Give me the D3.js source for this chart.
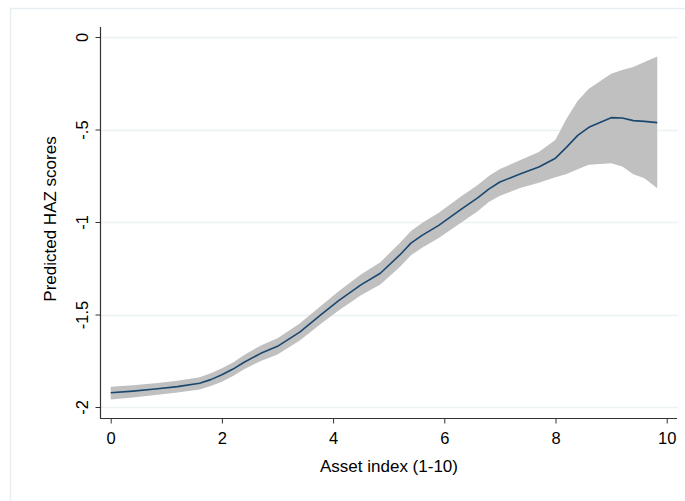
<!DOCTYPE html>
<html>
<head>
<meta charset="utf-8">
<script src="https://cdn.jsdelivr.net/npm/d3@7"></script>
<style>
  html, body { margin: 0; padding: 0; background: #ffffff; }
  svg { display: block; }
  text { font-family: "Liberation Sans", Arial, sans-serif; fill: #000; }
</style>
</head>
<body>
<svg id="chart" width="685" height="501"></svg>
<script>
// ---- data ----
const assetIndex = [0, 0.4, 0.8, 1.2, 1.6, 1.8, 2.0, 2.2, 2.4, 2.7, 3.0, 3.4, 3.8, 4.1, 4.5, 4.85, 5.2, 5.4, 5.6, 5.9, 6.3, 6.6, 6.8, 7.0, 7.35, 7.7, 8.0, 8.2, 8.4, 8.6, 9.0, 9.2, 9.4, 9.6, 9.83];
const predicted  = [-1.923, -1.914, -1.903, -1.890, -1.872, -1.852, -1.826, -1.795, -1.758, -1.710, -1.672, -1.595, -1.497, -1.425, -1.340, -1.277, -1.178, -1.114, -1.072, -1.018, -0.932, -0.870, -0.822, -0.784, -0.742, -0.703, -0.655, -0.595, -0.532, -0.488, -0.436, -0.438, -0.452, -0.456, -0.463];
const ciUpper    = [-1.890, -1.882, -1.872, -1.858, -1.839, -1.818, -1.791, -1.759, -1.719, -1.667, -1.629, -1.549, -1.449, -1.374, -1.284, -1.217, -1.114, -1.049, -1.006, -0.950, -0.862, -0.800, -0.752, -0.714, -0.668, -0.622, -0.555, -0.440, -0.345, -0.280, -0.198, -0.178, -0.162, -0.135, -0.106];
const ciLower    = [-1.959, -1.948, -1.935, -1.922, -1.906, -1.887, -1.863, -1.833, -1.796, -1.751, -1.716, -1.641, -1.546, -1.479, -1.396, -1.338, -1.243, -1.180, -1.139, -1.086, -1.004, -0.942, -0.892, -0.858, -0.818, -0.788, -0.758, -0.740, -0.715, -0.690, -0.683, -0.700, -0.742, -0.763, -0.818];
const xTicks = [0, 2, 4, 6, 8, 10];
const yTicks = [0, -0.5, -1, -1.5, -2];
const yTickLabels = ["0", "-.5", "-1", "-1.5", "-2"];
const xTitle = "Asset index (1-10)";
const yTitle = "Predicted HAZ scores";

const svg = d3.select("#chart");

// outer frame (graph region border)
svg.append("rect")
  .attr("x", 10.5).attr("y", 8.5)
  .attr("width", 700).attr("height", 520)
  .attr("fill", "#ffffff")
  .attr("stroke", "#e6eef1").attr("stroke-width", 1.5);

const plot = { left: 100, right: 677, top: 27, bottom: 418 };

const x = d3.scaleLinear().domain([0, 10]).range([110.7, 666.7]);
const y = d3.scaleLinear().domain([-2, 0]).range([407, 37]);

// gridlines
svg.append("g").selectAll("line")
  .data(yTicks).join("line")
  .attr("x1", plot.left + 1).attr("x2", 678)
  .attr("y1", d => Math.round(y(d)) + 0.5).attr("y2", d => Math.round(y(d)) + 0.5)
  .attr("stroke", "#eaf2f3").attr("stroke-width", 1.3);

const data = assetIndex.map((v, i) => ({ x: v, m: predicted[i], lo: ciLower[i], hi: ciUpper[i] }));

// CI band
svg.append("path")
  .datum(data)
  .attr("fill", "#c0c0c0")
  .attr("stroke", "none")
  .attr("d", d3.area().x(d => x(d.x)).y0(d => y(d.lo)).y1(d => y(d.hi)));

// fitted line
svg.append("path")
  .datum(data)
  .attr("fill", "none")
  .attr("stroke", "#1a476f")
  .attr("stroke-width", 1.6)
  .attr("stroke-linejoin", "round")
  .attr("d", d3.line().x(d => x(d.x)).y(d => y(d.m)));

// axes
const axisColor = "#333333";
const yAxis = d3.axisLeft(y).tickValues(yTicks).tickSize(5).tickFormat((d, i) => yTickLabels[i]);
const gy = svg.append("g").attr("transform", `translate(${plot.left + 0.5},0)`).call(yAxis);
gy.select(".domain").remove();
gy.selectAll(".tick line").attr("stroke", axisColor);
gy.selectAll(".tick text")
  .attr("transform", "rotate(-90)")
  .attr("x", 0).attr("y", -13)
  .attr("dy", 0)
  .attr("text-anchor", "middle")
  .style("font-size", "16.5px")
  .style("font-family", "'Liberation Sans', Arial, sans-serif")
  .attr("fill", "#000");
svg.append("line")
  .attr("x1", plot.left + 0.5).attr("x2", plot.left + 0.5)
  .attr("y1", plot.top).attr("y2", plot.bottom)
  .attr("stroke", axisColor).attr("stroke-width", 1.2);

const xAxis = d3.axisBottom(x).tickValues(xTicks).tickSize(5).tickFormat(d3.format("d"));
const gx = svg.append("g").attr("transform", `translate(0,${plot.bottom + 0.5})`).call(xAxis);
gx.select(".domain").remove();
gx.selectAll(".tick line").attr("stroke", axisColor);
gx.selectAll(".tick text")
  .attr("y", 25.5).attr("dy", 0)
  .style("font-size", "16.5px")
  .style("font-family", "'Liberation Sans', Arial, sans-serif")
  .attr("fill", "#000");
svg.append("line")
  .attr("x1", plot.left).attr("x2", plot.right)
  .attr("y1", plot.bottom + 0.5).attr("y2", plot.bottom + 0.5)
  .attr("stroke", axisColor).attr("stroke-width", 1.2);

// titles
svg.append("text")
  .attr("x", 389).attr("y", 471.5)
  .attr("text-anchor", "middle")
  .style("font-size", "17px")
  .text(xTitle);

svg.append("text")
  .attr("transform", "translate(56,219) rotate(-90)")
  .attr("text-anchor", "middle")
  .style("font-size", "17px")
  .text(yTitle);
</script>
</body>
</html>
